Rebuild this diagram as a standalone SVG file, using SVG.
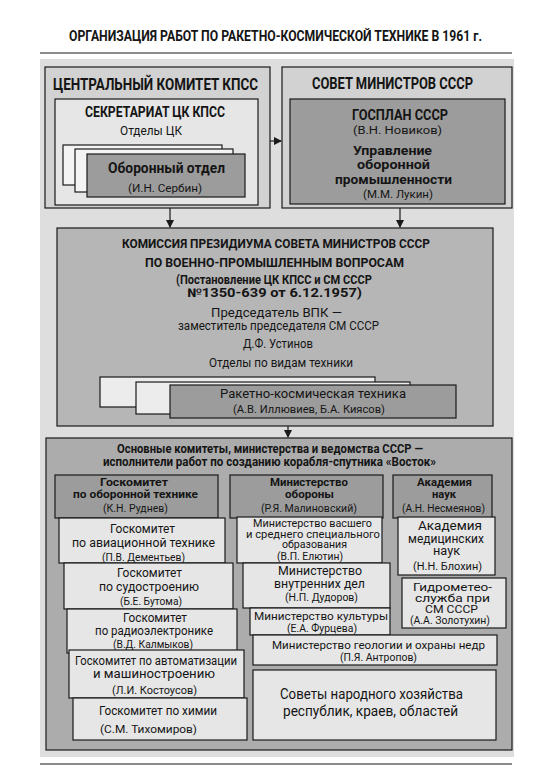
<svg xmlns="http://www.w3.org/2000/svg" width="544" height="783" viewBox="0 0 544 783">
<style>
text{font-family:Roboto,"Open Sans","Liberation Sans",sans-serif;fill:#151515}
.b{font-weight:bold}
.box{stroke:#1a1a1a;stroke-width:1.2}
.lt{fill:#e6e6e6}
.md{fill:#d2d2d2}
.dk{fill:#9c9c9c}
.km{fill:#b6b6b6}
.pn{fill:#acacac}
.cn{stroke:#1a1a1a;stroke-width:1.2;fill:none}
</style>
<defs>
<marker id="ah" viewBox="0 0 8 8" refX="7" refY="4" markerWidth="8" markerHeight="8" orient="auto" markerUnits="userSpaceOnUse">
<path d="M0,0 L8,4 L0,8 z" fill="#1a1a1a"/>
</marker>
</defs>
<rect x="0" y="0" width="544" height="783" fill="#ffffff"/>
<text class="b" x="69" y="41" font-size="14" textLength="413" lengthAdjust="spacingAndGlyphs">ОРГАНИЗАЦИЯ РАБОТ ПО  РАКЕТНО-КОСМИЧЕСКОЙ ТЕХНИКЕ В 1961 г.</text>
<line x1="40" y1="53" x2="512" y2="53" stroke="#1a1a1a" stroke-width="1.2"/>
<rect x="40" y="59" width="474" height="698" fill="#dedede"/>

<g id="ck">
<rect class="box md" x="45" y="67" width="225" height="141"/>
<text class="b" x="53" y="90" font-size="16" textLength="205" lengthAdjust="spacingAndGlyphs">ЦЕНТРАЛЬНЫЙ КОМИТЕТ КПСС</text>
</g>
<g id="secretariat">
<rect class="box lt" x="55" y="99" width="203" height="106"/>
<text class="b" x="85" y="117" font-size="14" textLength="140" lengthAdjust="spacingAndGlyphs">СЕКРЕТАРИАТ ЦК КПСС</text>
<text x="120" y="135" font-size="12.5" textLength="62" lengthAdjust="spacingAndGlyphs">Отделы ЦК</text>
</g>
<g id="ck-otdely">
<rect class="box" fill="#f4f4f4" x="63" y="145" width="159" height="40"/>
<rect class="box" fill="#f4f4f4" x="75" y="149" width="158" height="43"/>
</g>
<g id="oboronny-otdel">
<rect class="box dk" x="87" y="154" width="158" height="43"/>
<text class="b" x="108" y="173" font-size="14" textLength="117" lengthAdjust="spacingAndGlyphs">Оборонный отдел</text>
<text x="128" y="192" font-size="11.5" textLength="74" lengthAdjust="spacingAndGlyphs">(И.Н. Сербин)</text>
</g>

<g id="sovmin">
<rect class="box md" x="282" y="67" width="230" height="141"/>
<text class="b" x="312" y="89" font-size="16" textLength="161" lengthAdjust="spacingAndGlyphs">СОВЕТ МИНИСТРОВ СССР</text>
</g>
<g id="gosplan">
<rect class="box dk" x="290" y="99" width="215" height="105"/>
<text class="b" x="352" y="120" font-size="14" textLength="96" lengthAdjust="spacingAndGlyphs">ГОСПЛАН СССР</text>
<text x="353" y="134" font-size="11.5" textLength="89" lengthAdjust="spacingAndGlyphs">(В.Н. Новиков)</text>
<text class="b" x="353" y="155" font-size="13.5" textLength="79" lengthAdjust="spacingAndGlyphs">Управление</text>
<text class="b" x="357" y="169" font-size="13.5" textLength="73" lengthAdjust="spacingAndGlyphs">оборонной</text>
<text class="b" x="335" y="184" font-size="13.5" textLength="117" lengthAdjust="spacingAndGlyphs">промышленности</text>
<text x="363" y="198" font-size="11.5" textLength="70" lengthAdjust="spacingAndGlyphs">(М.М. Лукин)</text>
</g>

<g id="komissiya">
<rect class="box km" x="57" y="228" width="436" height="198"/>
<text class="b" x="122" y="248" font-size="13.5" textLength="308" lengthAdjust="spacingAndGlyphs">КОМИССИЯ ПРЕЗИДИУМА СОВЕТА МИНИСТРОВ СССР</text>
<text class="b" x="145" y="267" font-size="13.5" textLength="259" lengthAdjust="spacingAndGlyphs">ПО ВОЕННО-ПРОМЫШЛЕННЫМ ВОПРОСАМ</text>
<text class="b" x="176" y="284" font-size="12" textLength="196" lengthAdjust="spacingAndGlyphs">(Постановление ЦК КПСС и СМ СССР</text>
<text class="b" x="187" y="297" font-size="12" textLength="175" lengthAdjust="spacingAndGlyphs">№1350-639 от 6.12.1957)</text>
<text x="211" y="317" font-size="12.5" textLength="131" lengthAdjust="spacingAndGlyphs">Председатель ВПК —</text>
<text x="178" y="330" font-size="12.5" textLength="201" lengthAdjust="spacingAndGlyphs">заместитель председателя СМ СССР</text>
<text x="243" y="348" font-size="12" textLength="70" lengthAdjust="spacingAndGlyphs">Д.Ф. Устинов</text>
<text x="209" y="367" font-size="13" textLength="144" lengthAdjust="spacingAndGlyphs">Отделы по видам техники</text>
</g>
<g id="vpk-otdely">
<rect class="box" fill="#ececec" x="100" y="377" width="275" height="30"/>
<rect class="box" fill="#ececec" x="136" y="382" width="274" height="32"/>
</g>
<g id="rkt">
<rect class="box dk" x="170" y="385" width="286" height="33"/>
<text x="220" y="398" font-size="13.5" textLength="186" lengthAdjust="spacingAndGlyphs">Ракетно-космическая техника</text>
<text x="233" y="413" font-size="11" textLength="152" lengthAdjust="spacingAndGlyphs">(А.В. Иллювиев, Б.А. Киясов)</text>
</g>

<g id="ispolniteli">
<rect class="box pn" x="46" y="438" width="466" height="312"/>
<text class="b" x="117" y="453" font-size="12" textLength="306" lengthAdjust="spacingAndGlyphs">Основные комитеты, министерства и ведомства СССР —</text>
<text class="b" x="103" y="466" font-size="12" textLength="333" lengthAdjust="spacingAndGlyphs">исполнители работ по созданию корабля-спутника «Восток»</text>
</g>

<g id="goskom-oboron">
<rect class="box dk" x="55" y="475" width="163" height="43"/>
<text class="b" x="100" y="486" font-size="11.5" textLength="68" lengthAdjust="spacingAndGlyphs">Госкомитет</text>
<text class="b" x="73" y="498" font-size="11.5" textLength="125" lengthAdjust="spacingAndGlyphs">по оборонной технике</text>
<text x="103" y="512" font-size="10.5" textLength="65" lengthAdjust="spacingAndGlyphs">(К.Н. Руднев)</text>
</g>
<g id="minoborony">
<rect class="box dk" x="230" y="475" width="153" height="43"/>
<text class="b" x="270" y="486" font-size="11.5" textLength="78" lengthAdjust="spacingAndGlyphs">Министерство</text>
<text class="b" x="285" y="498" font-size="11.5" textLength="49" lengthAdjust="spacingAndGlyphs">обороны</text>
<text x="261" y="512" font-size="10.5" textLength="96" lengthAdjust="spacingAndGlyphs">(Р.Я. Малиновский)</text>
</g>
<g id="an">
<rect class="box dk" x="393" y="475" width="99" height="43"/>
<text class="b" x="417" y="486" font-size="11.5" textLength="55" lengthAdjust="spacingAndGlyphs">Академия</text>
<text class="b" x="432" y="498" font-size="11.5" textLength="24" lengthAdjust="spacingAndGlyphs">наук</text>
<text x="402" y="512" font-size="10.5" textLength="83" lengthAdjust="spacingAndGlyphs">(А.Н. Несмеянов)</text>
</g>

<g id="gk-avia">
<rect class="box lt" x="59" y="518" width="166" height="45"/>
<text x="110" y="533" font-size="12.5" textLength="65" lengthAdjust="spacingAndGlyphs">Госкомитет</text>
<text x="72" y="547" font-size="12.5" textLength="143" lengthAdjust="spacingAndGlyphs">по авиационной технике</text>
<text x="102" y="561" font-size="11" textLength="83" lengthAdjust="spacingAndGlyphs">(П.В. Дементьев)</text>
</g>
<g id="gk-sudo">
<rect class="box lt" x="64" y="563" width="169" height="46"/>
<text x="117" y="577" font-size="12.5" textLength="65" lengthAdjust="spacingAndGlyphs">Госкомитет</text>
<text x="99" y="591" font-size="12.5" textLength="100" lengthAdjust="spacingAndGlyphs">по судостроению</text>
<text x="120" y="605" font-size="11" textLength="62" lengthAdjust="spacingAndGlyphs">(Б.Е. Бутома)</text>
</g>
<g id="gk-radio">
<rect class="box lt" x="67" y="609" width="170" height="44"/>
<text x="123" y="622" font-size="12" textLength="64" lengthAdjust="spacingAndGlyphs">Госкомитет</text>
<text x="95" y="635" font-size="12" textLength="118" lengthAdjust="spacingAndGlyphs">по радиоэлектронике</text>
<text x="113" y="648" font-size="11" textLength="80" lengthAdjust="spacingAndGlyphs">(В.Д. Калмыков)</text>
</g>
<g id="gk-avtomat">
<rect class="box lt" x="69" y="650" width="175" height="48"/>
<text x="75" y="665" font-size="12" textLength="162" lengthAdjust="spacingAndGlyphs">Госкомитет по автоматизации</text>
<text x="93" y="678" font-size="12" textLength="122" lengthAdjust="spacingAndGlyphs">и машиностроению</text>
<text x="112" y="694" font-size="11" textLength="85" lengthAdjust="spacingAndGlyphs">(Л.И. Костоусов)</text>
</g>
<g id="gk-himii">
<rect class="box lt" x="73" y="698" width="174" height="42"/>
<text x="99" y="715" font-size="12.5" textLength="118" lengthAdjust="spacingAndGlyphs">Госкомитет по химии</text>
<text x="100" y="733" font-size="11" textLength="97" lengthAdjust="spacingAndGlyphs">(С.М. Тихомиров)</text>
</g>

<g id="min-vuz">
<rect class="box lt" x="237" y="517" width="145" height="46"/>
<text x="253" y="527" font-size="10.5" textLength="119" lengthAdjust="spacingAndGlyphs">Министерство васшего</text>
<text x="246" y="537.5" font-size="10.5" textLength="134" lengthAdjust="spacingAndGlyphs">и среднего специального</text>
<text x="282" y="548" font-size="10.5" textLength="65" lengthAdjust="spacingAndGlyphs">образования</text>
<text x="277" y="559.5" font-size="10.5" textLength="66" lengthAdjust="spacingAndGlyphs">(В.П. Елютин)</text>
</g>
<g id="mvd">
<rect class="box lt" x="243" y="563" width="147" height="45"/>
<text x="278" y="575" font-size="12" textLength="84" lengthAdjust="spacingAndGlyphs">Министерство</text>
<text x="274" y="587.5" font-size="12" textLength="91" lengthAdjust="spacingAndGlyphs">внутренних дел</text>
<text x="285" y="601" font-size="11" textLength="73" lengthAdjust="spacingAndGlyphs">(Н.П. Дудоров)</text>
</g>
<g id="min-kult">
<rect class="box lt" x="250" y="608" width="140" height="27"/>
<text x="254" y="620" font-size="11.5" textLength="134" lengthAdjust="spacingAndGlyphs">Министерство культуры</text>
<text x="287" y="631.5" font-size="10.5" textLength="70" lengthAdjust="spacingAndGlyphs">(Е.А. Фурцева)</text>
</g>
<g id="min-geol">
<rect class="box lt" x="253" y="635" width="244" height="30"/>
<text x="272" y="648.5" font-size="11.5" textLength="213" lengthAdjust="spacingAndGlyphs">Министерство геологии и охраны недр</text>
<text x="340" y="660.5" font-size="10.5" textLength="77" lengthAdjust="spacingAndGlyphs">(П.Я. Антропов)</text>
</g>
<g id="sovnarhoz">
<rect class="box lt" x="253" y="670" width="243" height="70"/>
<text x="280" y="699" font-size="15.5" textLength="183" lengthAdjust="spacingAndGlyphs">Советы народного хозяйства</text>
<text x="283" y="716" font-size="15.5" textLength="175" lengthAdjust="spacingAndGlyphs">республик, краев, областей</text>
</g>

<g id="amn">
<rect class="box lt" x="398" y="517" width="97" height="58"/>
<text x="418" y="530" font-size="12" textLength="64" lengthAdjust="spacingAndGlyphs">Академия</text>
<text x="408" y="542.5" font-size="12" textLength="76" lengthAdjust="spacingAndGlyphs">медицинских</text>
<text x="433" y="555" font-size="12" textLength="27" lengthAdjust="spacingAndGlyphs">наук</text>
<text x="413" y="570" font-size="11" textLength="69" lengthAdjust="spacingAndGlyphs">(Н.Н. Блохин)</text>
</g>
<g id="gidromet">
<rect class="box lt" x="402" y="578" width="104" height="50"/>
<text x="413" y="591" font-size="11" textLength="79" lengthAdjust="spacingAndGlyphs">Гидрометео-</text>
<text x="415" y="602" font-size="11" textLength="75" lengthAdjust="spacingAndGlyphs">служба при</text>
<text x="425" y="613" font-size="11" textLength="53" lengthAdjust="spacingAndGlyphs">СМ СССР</text>
<text x="410" y="624" font-size="10.5" textLength="80" lengthAdjust="spacingAndGlyphs">(А.А. Золотухин)</text>
</g>

<g id="connectors">
<line class="cn" x1="270" y1="141" x2="281" y2="141" marker-end="url(#ah)"/>
<line class="cn" x1="170" y1="208" x2="170" y2="227" marker-end="url(#ah)"/>
<line class="cn" x1="400" y1="208" x2="400" y2="227" marker-end="url(#ah)"/>
<line class="cn" x1="288" y1="426" x2="288" y2="437" marker-end="url(#ah)"/>
</g>
<line x1="40" y1="764" x2="512" y2="764" stroke="#1a1a1a" stroke-width="1.2"/>
</svg>
